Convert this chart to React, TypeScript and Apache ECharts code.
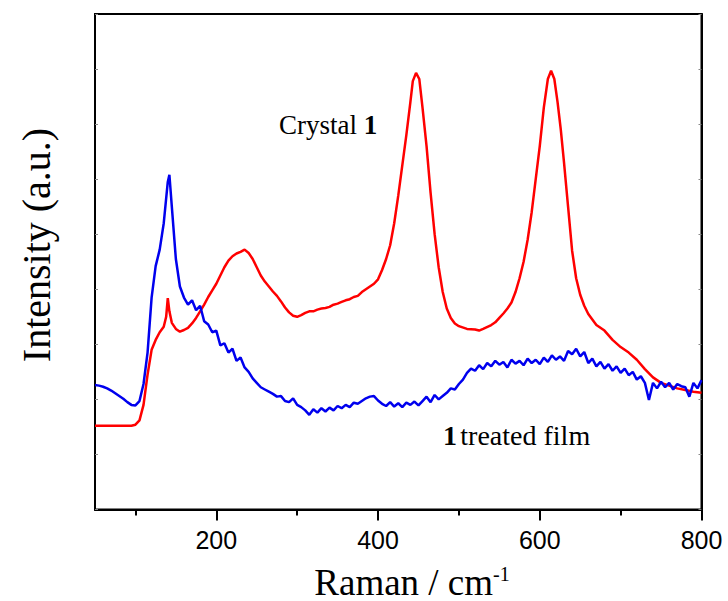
import React, { useEffect, useRef } from "react";
import * as echarts from "echarts";

const xTickMajor = [200, 400, 600, 800];
const xTickMinor = [100, 300, 500, 700];
const xTickLabels = ["200", "400", "600", "800"];

const redWavenumber = [50, 95, 100, 105, 110, 115, 120, 125, 130, 135, 138, 140, 142, 145, 150, 155, 160, 165, 170, 175, 180, 185, 190, 195, 200, 205, 210, 215, 220, 225, 230, 235, 240, 245, 250, 255, 260, 265, 270, 275, 280, 285, 290, 295, 300, 305, 310, 315, 320, 325, 330, 335, 340, 345, 350, 355, 360, 365, 370, 375, 380, 385, 390, 395, 400, 405, 410, 415, 420, 425, 430, 435, 440, 443, 447, 451, 455, 460, 465, 470, 475, 480, 485, 490, 495, 500, 510, 520, 525, 530, 540, 545, 550, 555, 560, 565, 570, 575, 580, 585, 590, 595, 600, 605, 610, 614, 618, 622, 626, 630, 635, 640, 645, 650, 655, 660, 665, 670, 680, 690, 700, 710, 720, 730, 740, 750, 760, 770, 780, 790, 800];
const redIntensity = [1.52, 1.52, 1.54, 1.62, 1.9, 2.45, 2.9, 3.08, 3.22, 3.32, 3.5, 3.84, 3.6, 3.39, 3.28, 3.23, 3.26, 3.3, 3.38, 3.48, 3.6, 3.72, 3.86, 3.98, 4.1, 4.25, 4.4, 4.52, 4.6, 4.65, 4.68, 4.72, 4.66, 4.55, 4.4, 4.25, 4.14, 4.05, 3.96, 3.88, 3.78, 3.67, 3.58, 3.52, 3.5, 3.53, 3.57, 3.6, 3.6, 3.63, 3.65, 3.66, 3.68, 3.72, 3.74, 3.77, 3.8, 3.82, 3.86, 3.88, 3.95, 4.0, 4.05, 4.1, 4.18, 4.35, 4.55, 4.8, 5.2, 5.7, 6.25, 6.8, 7.4, 7.78, 7.93, 7.82, 7.3, 6.6, 5.75, 5.0, 4.4, 3.95, 3.65, 3.48, 3.38, 3.33, 3.28, 3.27, 3.25, 3.28, 3.35, 3.4, 3.48, 3.56, 3.65, 3.76, 3.95, 4.2, 4.5, 4.9, 5.4, 6.0, 6.6, 7.3, 7.82, 7.97, 7.82, 7.4, 6.9, 6.3, 5.5, 4.7, 4.2, 3.9, 3.7, 3.55, 3.45, 3.35, 3.25, 3.08, 2.95, 2.85, 2.72, 2.55, 2.4, 2.3, 2.25, 2.2, 2.17, 2.14, 2.12];

const blueWavenumber = [50, 55, 60, 65, 70, 75, 80, 85, 90, 95, 100, 105, 110, 115, 120, 125, 130, 135, 140, 142, 145, 150, 155, 160, 165, 170, 175, 180, 185, 190, 195, 200, 205, 210, 215, 220, 225, 230, 235, 240, 245, 250, 255, 260, 265, 270, 275, 280, 285, 290, 295, 300, 305, 310, 315, 320, 325, 330, 335, 340, 345, 350, 355, 360, 365, 370, 375, 380, 385, 390, 395, 400, 405, 410, 415, 420, 425, 430, 435, 440, 445, 450, 455, 460, 465, 470, 475, 480, 485, 490, 495, 500, 505, 510, 515, 520, 525, 530, 535, 540, 545, 550, 555, 560, 565, 570, 575, 580, 585, 590, 595, 600, 605, 610, 615, 620, 625, 630, 635, 640, 645, 650, 655, 660, 665, 670, 675, 680, 685, 690, 695, 700, 705, 710, 715, 720, 725, 730, 735, 740, 745, 750, 755, 760, 765, 770, 775, 780, 785, 790, 795, 800];
const blueIntensity = [2.26, 2.25, 2.23, 2.2, 2.16, 2.11, 2.06, 2.01, 1.95, 1.9, 1.89, 1.97, 2.28, 2.85, 3.85, 4.42, 4.72, 5.2, 5.95, 6.08, 5.5, 4.55, 4.05, 3.85, 3.72, 3.8, 3.62, 3.7, 3.42, 3.36, 3.22, 3.25, 2.98, 3.02, 2.85, 2.92, 2.7, 2.76, 2.58, 2.5, 2.38, 2.3, 2.22, 2.18, 2.14, 2.1, 2.05, 2.06, 1.97, 1.95, 2.02, 1.9, 1.86, 1.8, 1.72, 1.82, 1.76, 1.84, 1.78, 1.85, 1.8, 1.88, 1.84, 1.9, 1.86, 1.94, 1.92, 1.97, 2.02, 2.05, 2.06, 1.98, 1.92, 1.88, 1.95, 1.87, 1.93, 1.86, 1.94, 1.9, 1.96, 1.89, 1.97, 2.05, 1.95, 2.08, 2.0, 2.06, 2.12, 2.2, 2.18, 2.28, 2.36, 2.48, 2.56, 2.52, 2.62, 2.55, 2.66, 2.6, 2.7, 2.63, 2.68, 2.58, 2.72, 2.65, 2.7, 2.62, 2.74, 2.66, 2.72, 2.64, 2.76, 2.68, 2.8, 2.72, 2.78, 2.7, 2.88, 2.82, 2.92, 2.78, 2.86, 2.66, 2.74, 2.6, 2.68, 2.56, 2.64, 2.52, 2.6, 2.48, 2.56, 2.44, 2.5, 2.36, 2.42, 2.3, 1.99, 2.3, 2.2, 2.32, 2.22, 2.3, 2.18, 2.28, 2.24, 2.22, 2.05, 2.3, 2.2, 2.35];

const redLabel = "Crystal";
const blueLabel = "treated film";

export default function App() {
  const ref = useRef<HTMLDivElement>(null);
  useEffect(() => {
    if (!ref.current) return;
    const chart = echarts.init(ref.current, null, { renderer: "svg" });
    const redData = redWavenumber.map((x, i) => [x, redIntensity[i]]);
    const blueData = blueWavenumber.map((x, i) => [x, blueIntensity[i]]);
    const serif = "'Liberation Serif', 'Times New Roman', serif";
    const sans = "'Liberation Sans', Arial, sans-serif";
    const grid = { left: 95, right: 26.5, top: 14, bottom: 91.5, show: true, borderColor: "#000", borderWidth: 2 };
    chart.setOption({
      animation: false,
      backgroundColor: "#fff",
      grid,
      xAxis: [
        {
          type: "value",
          min: 50,
          max: 800,
          position: "bottom",
          axisLine: { show: true, lineStyle: { color: "#000", width: 2 } },
          axisTick: { show: true, inside: false, length: 11, customValues: xTickMajor, lineStyle: { color: "#000", width: 2 } },
          axisLabel: {
            show: true,
            customValues: xTickMajor,
            formatter: (v: number) => xTickLabels[xTickMajor.indexOf(v)] ?? "",
            margin: 18,
            fontFamily: sans,
            fontSize: 25,
            color: "#000",
          },
          splitLine: { show: false },
        },
        {
          type: "value",
          min: 50,
          max: 800,
          position: "bottom",
          axisLine: { show: false },
          axisTick: { show: true, inside: false, length: 6, customValues: xTickMinor, lineStyle: { color: "#000", width: 2 } },
          axisLabel: { show: false },
          splitLine: { show: false },
        },
      ],
      yAxis: [
        {
          type: "value",
          min: 0,
          max: 9,
          interval: 1,
          position: "left",
          axisLine: { show: true, lineStyle: { color: "#000", width: 2 } },
          axisTick: { show: true, inside: true, length: 3, lineStyle: { color: "#888", width: 1 } },
          axisLabel: { show: false },
          splitLine: { show: false },
        },
        {
          type: "value",
          min: 0,
          max: 9,
          interval: 1,
          position: "right",
          axisLine: { show: true, lineStyle: { color: "#000", width: 2 } },
          axisTick: { show: true, inside: true, length: 3, lineStyle: { color: "#888", width: 1 } },
          axisLabel: { show: false },
          splitLine: { show: false },
        },
      ],
      series: [
        {
          type: "line",
          name: "Crystal 1",
          data: redData,
          showSymbol: false,
          symbol: "none",
          lineStyle: { color: "#ff0000", width: 2.5 },
          smooth: false,
          z: 2,
        },
        {
          type: "line",
          name: "1 treated film",
          data: blueData,
          showSymbol: false,
          symbol: "none",
          lineStyle: { color: "#0000ee", width: 2.5 },
          smooth: false,
          z: 3,
        },
      ],
      graphic: [
        {
          type: "text",
          x: 36,
          y: 245,
          rotation: Math.PI / 2,
          style: {
            text: "Intensity (a.u.)",
            fontFamily: serif,
            fontSize: 40,
            fill: "#000",
            align: "center",
            verticalAlign: "middle",
          },
        },
        {
          type: "text",
          x: 412,
          y: 582,
          style: {
            text: "{n|Raman / cm}{s|-1}",
            align: "center",
            verticalAlign: "middle",
            rich: {
              n: { fontFamily: serif, fontSize: 37, fill: "#000" },
              s: { fontFamily: serif, fontSize: 20, fill: "#000", verticalAlign: "top", padding: [0, 0, 14, 0] },
            },
          },
        },
        {
          type: "text",
          x: 279,
          y: 125,
          style: {
            text: "{n|" + redLabel + " }{b|1}",
            align: "left",
            verticalAlign: "middle",
            rich: {
              n: { fontFamily: serif, fontSize: 27, fill: "#000" },
              b: { fontFamily: serif, fontSize: 27, fontWeight: "bold", fill: "#000" },
            },
          },
        },
        {
          type: "text",
          x: 443,
          y: 435,
          style: {
            text: "{b|1} {n|" + blueLabel + "}",
            align: "left",
            verticalAlign: "middle",
            rich: {
              n: { fontFamily: serif, fontSize: 28, fill: "#000" },
              b: { fontFamily: serif, fontSize: 28, fontWeight: "bold", fill: "#000" },
            },
          },
        },
      ],
    });
    return () => chart.dispose();
  }, []);
  return <div ref={ref} style={{ width: 728, height: 601, position: "absolute", left: 0, top: 0 }} />;
}
